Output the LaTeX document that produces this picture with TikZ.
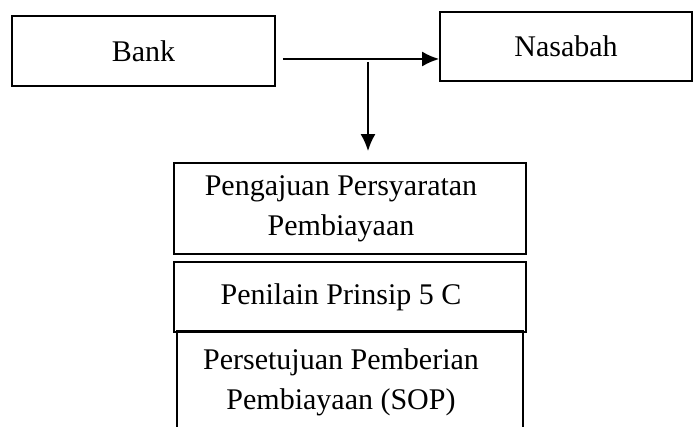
\documentclass[tikz,border=0pt]{standalone}
\usepackage{fontspec}
\setmainfont{Liberation Serif}
\usetikzlibrary{positioning,arrows.meta}

\begin{document}
\begin{tikzpicture}[x=0.5pt, y=-0.5pt, line width=0.9pt,
        every node/.style={font=\fontsize{15}{20}\selectfont},
        box/.style={draw, inner sep=0pt, align=center},
        flow/.style={-{Latex[length=8.5pt, width=7.5pt]}}]
        \useasboundingbox (0,0) rectangle (696,427);

        \node[
            box,
            minimum width=131.5pt,
            minimum height=35pt
        ](bank) at (143.5,51){Bank};

        \node[
            box,
            minimum width=126pt,
            minimum height=34.5pt
        ](nasabah) at (566,46.5){Nasabah};

        % text sits a little left of the box centre
        \node[
            box,
            minimum width=176pt,
            minimum height=45.5pt
        ](pengajuan) at (350,208.5){Pengajuan Persyaratan\hspace*{9pt}\\Pembiayaan\hspace*{9pt}};

        \node[
            box,
            below=3pt of pengajuan,
            minimum width=176pt,
            minimum height=35pt
        ](penilaian){Penilain Prinsip 5 C\hspace*{9pt}};

        \node[
            box,
            minimum width=173pt,
            minimum height=51.5pt
        ](persetujuan) at (350,382.5){Persetujuan Pemberian\hspace*{9pt}\\Pembiayaan (SOP)\hspace*{9pt}};

        \coordinate (split) at (368,59);

        \draw [flow]([xshift=3.5pt]bank.east |- split) -- (nasabah.west |- split);

        \draw [flow]([yshift=-1.5pt]split) -- ([yshift=5.5pt]pengajuan.north -| split);
    \end{tikzpicture}
\end{document}
